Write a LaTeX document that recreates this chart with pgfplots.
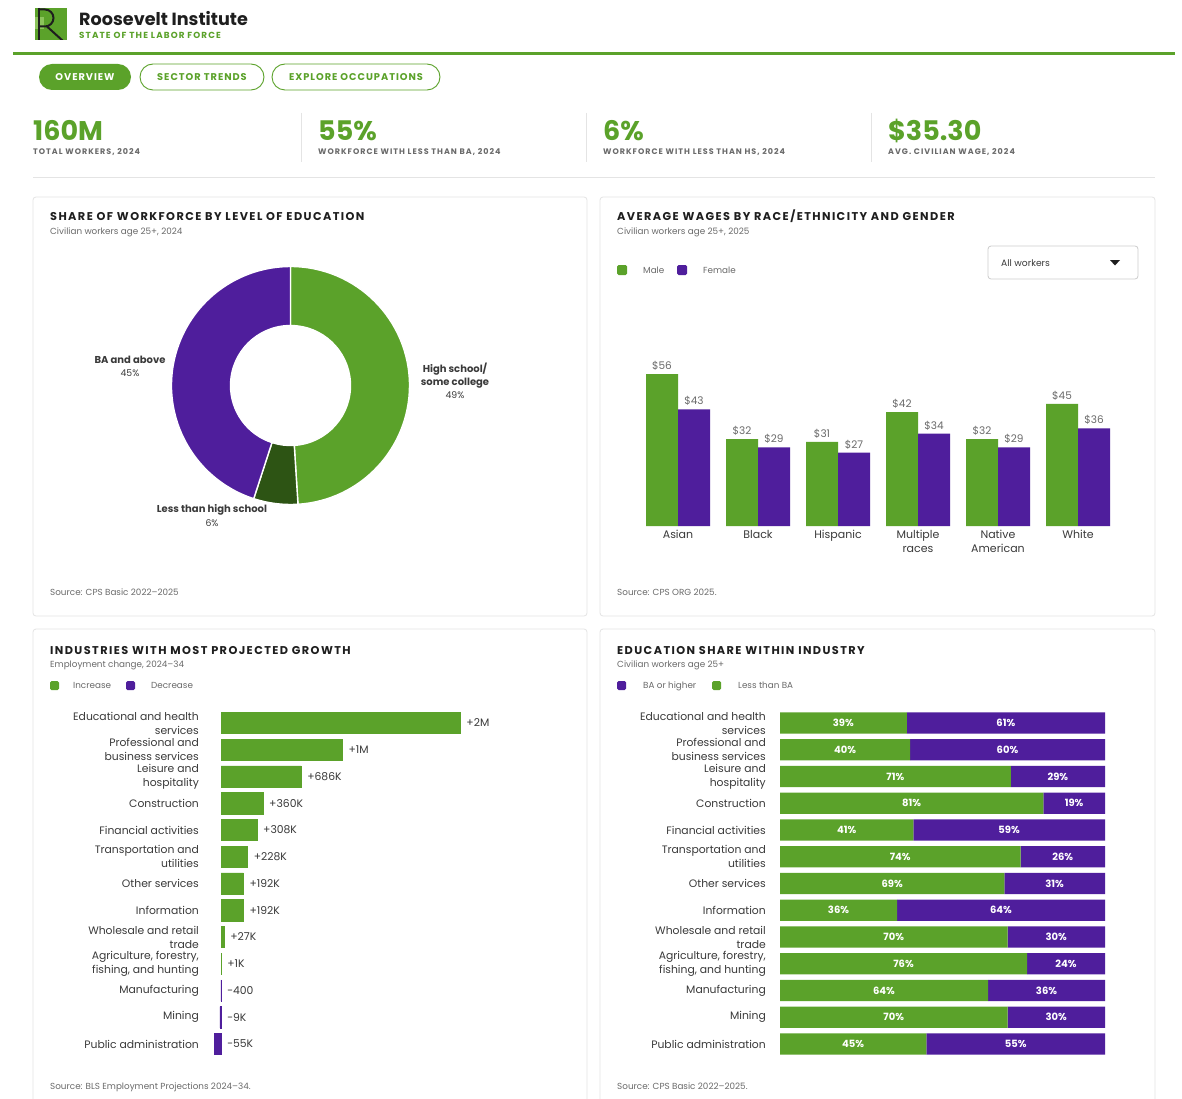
\documentclass[border=0pt]{standalone}
\usepackage{pgfplots}
\usepackage{pgfplotstable}
\pgfplotsset{compat=1.18}
\usepackage{fontspec}
\setmainfont{Poppins}
\newfontfamily\titlefont[LetterSpace=12.5]{Poppins}
\newfontfamily\navfont[LetterSpace=10]{Poppins}
\newfontfamily\kpifont[LetterSpace=12.5]{Poppins}

\definecolor{rgreen}{HTML}{5BA22A}
\definecolor{rlight}{HTML}{8CC45C}
\definecolor{rpurple}{HTML}{4F1E9C}
\definecolor{rdark}{HTML}{2D5414}
\definecolor{ink}{HTML}{1E1E1E}
\definecolor{txt}{HTML}{3A3A3A}
\definecolor{muted}{HTML}{6A6A6A}
\definecolor{card}{HTML}{E4E4E4}

\newcommand\fs[2]{\fontsize{#1}{#2}\selectfont}

% Share of workforce by education (percent)
\pgfplotstableread{
share label
49 hs
6 lths
45 ba
}\educshare

% Average hourly wages, male / female
\pgfplotstableread{
idx male female
0 56 43
1 32 29
2 31 27
3 42 34
4 32 29
5 45 36
}\wages

% Projected employment change 2024-34 (thousands)
\pgfplotstableread[col sep=comma]{
row,change,lab
0,2050,+2M
1,1040,+1M
2,686,+686K
3,360,+360K
4,308,+308K
5,228,+228K
6,192,+192K
7,192,+192K
8,27,+27K
9,1,+1K
10,-0.4,−400
11,-9,−9K
12,-55,−55K
}\growth

% Education share within industry (percent)
\pgfplotstableread{
row lessba ba
0 39 61
1 40 60
2 71 29
3 81 19
4 41 59
5 74 26
6 69 31
7 36 64
8 70 30
9 76 24
10 64 36
11 70 30
12 45 55
}\eduind

\pgfplotsset{
  hbars/.style={
    scale only axis, width=#1, height=347.75pt,
    ymin=-0.5, ymax=12.5, y dir=reverse,
    axis line style={draw=none}, tick style={draw=none},
    xtick=\empty, ytick={0,...,12},
    clip=false,
  },
  industry labels/.style={
    yticklabels={{Educational and health\\services}, {Professional and\\business services}, {Leisure and\\hospitality}, Construction, Financial activities, {Transportation and\\utilities}, Other services, Information, {Wholesale and retail\\trade}, {Agriculture, forestry,\\fishing, and hunting}, Manufacturing, Mining, Public administration},
    yticklabel style={align=right, font=\fs{10.8}{14}, text=txt, inner sep=0pt, xshift=#1},
  },
}

\begin{document}
\begin{tikzpicture}[x=1pt,y=-1pt]
\path[use as bounding box, fill=white] (0,0) rectangle (1182,1099);

% ---- header
\begin{scope}
  \clip (35,8) rectangle (67,40);
  \fill[rgreen] (35,8) rectangle (67,40);
  \fill[rlight] (35,17) rectangle (44,29);
  \draw[ink, line width=2pt] (38.5,8) -- (38.5,40);
  \draw[ink, line width=2pt] (38.5,9.5) -- (45,9.5) arc[start angle=-90, end angle=90, radius=8.5] -- (38.5,26.5);
  \draw[ink, line width=2pt] (47,26.5) -- (63,41);
\end{scope}
\node[anchor=base west, inner sep=0pt, font=\bfseries\fs{17.6}{20}, text=ink] at (79,26) {Roosevelt Institute};
\node[anchor=base west, inner sep=0pt, font=\titlefont\bfseries\fs{8.8}{10}, text=rgreen] at (79,39) {STATE OF THE LABOR FORCE};
\draw[rgreen, line width=3pt] (13,54) -- (1175,54);

% ---- navigation
\tikzset{navtext/.style={font=\navfont\bfseries\fs{9.8}{11}}}
\fill[rgreen, rounded corners=13pt] (39,64) rectangle (131,90);
\node[navtext, text=white] at (85,77) {OVERVIEW};
\draw[rgreen, line width=0.9pt, rounded corners=13pt] (140,64) rectangle (264,90);
\node[navtext, text=rgreen] at (202,77) {SECTOR TRENDS};
\draw[rgreen, line width=0.9pt, rounded corners=13pt] (272,64) rectangle (440,90);
\node[navtext, text=rgreen] at (356,77) {EXPLORE OCCUPATIONS};

% ---- headline numbers
\tikzset{
  kpi/.style={anchor=base west, inner sep=0pt, font=\bfseries\fs{27}{30}, text=rgreen},
  kpisub/.style={anchor=base west, inner sep=0pt, font=\kpifont\bfseries\fs{8}{9}, text=muted},
}
\foreach \x in {301,586,871} \draw[card, line width=0.8pt] (\x,113) -- (\x,162);
\node[kpi] at (33,141) {160M};
\node[kpi] at (318,141) {55\%};
\node[kpi] at (603,141) {6\%};
\node[kpi] at (888,141) {\$35.30};
\node[kpisub] at (33,155) {TOTAL WORKERS, 2024};
\node[kpisub] at (318,155) {WORKFORCE WITH LESS THAN BA, 2024};
\node[kpisub] at (603,155) {WORKFORCE WITH LESS THAN HS, 2024};
\node[kpisub] at (888,155) {AVG. CIVILIAN WAGE, 2024};
\draw[card, line width=0.8pt] (33,177) -- (1155,177);

% ---- cards
\foreach \a/\b/\c/\d in {33/197/587/616, 600/197/1155/616, 33/629/587/1110, 600/629/1155/1110}
  \draw[card, line width=0.8pt, rounded corners=3pt] (\a,\b) rectangle (\c,\d);

\tikzset{
  cardtitle/.style={anchor=base west, inner sep=0pt, font=\titlefont\bfseries\fs{11.3}{13}, text=ink},
  cardsub/.style={anchor=base west, inner sep=0pt, font=\fs{8.8}{10}, text=muted},
  legtext/.style={anchor=base west, inner sep=0pt, font=\fs{8.8}{10}, text=muted},
}

% ---- card 1: donut
\node[cardtitle] at (50,221) {SHARE OF WORKFORCE BY LEVEL OF EDUCATION};
\node[cardsub] at (50,234) {Civilian workers age 25+, 2024};
\node[cardsub] at (50,595) {Source: CPS Basic 2022–2025};

\pgfplotstablegetelem{0}{share}\of\educshare \pgfmathsetmacro\shA{\pgfplotsretval}
\pgfplotstablegetelem{1}{share}\of\educshare \pgfmathsetmacro\shB{\pgfplotsretval}
\pgfplotstablegetelem{2}{share}\of\educshare \pgfmathsetmacro\shC{\pgfplotsretval}
\pgfmathsetmacro\angA{90}
\pgfmathsetmacro\angB{\angA-3.6*\shA}
\pgfmathsetmacro\angC{\angB-3.6*\shB}
\pgfmathsetmacro\angD{\angC-3.6*\shC}

\begin{axis}[
  at={(290.5pt,-385.5pt)}, anchor=center,
  scale only axis, width=240pt, height=240pt,
  xmin=-1, xmax=1, ymin=-1, ymax=1, hide axis, clip=false,
]
\begin{scope}[shift={(axis cs:0,0)}]
  \filldraw[rgreen, draw=white, line width=1.4pt]
    (\angA:119pt) arc[start angle=\angA, end angle=\angB, radius=119pt]
    -- (\angB:60pt) arc[start angle=\angB, end angle=\angA, radius=60pt] -- cycle;
  \filldraw[rdark, draw=white, line width=1.4pt]
    (\angB:119pt) arc[start angle=\angB, end angle=\angC, radius=119pt]
    -- (\angC:60pt) arc[start angle=\angC, end angle=\angB, radius=60pt] -- cycle;
  \filldraw[rpurple, draw=white, line width=1.4pt]
    (\angC:119pt) arc[start angle=\angC, end angle=\angD, radius=119pt]
    -- (\angD:60pt) arc[start angle=\angD, end angle=\angC, radius=60pt] -- cycle;
\end{scope}
\end{axis}

\tikzset{
  slicename/.style={font=\bfseries\fs{10}{13}, text=txt, inner sep=0pt},
  slicepct/.style={font=\fs{9.3}{11}, text=txt, inner sep=0pt},
}
\node[slicename, align=center] at (455,375.5) {High school/\\some college};
\node[slicepct] at (455,395) {49\%};
\node[slicename] at (130,360) {BA and above};
\node[slicepct] at (130,373) {45\%};
\node[slicename] at (212,510) {Less than high school};
\node[slicepct] at (212,523) {6\%};

% ---- card 2: wages
\node[cardtitle] at (617,221) {AVERAGE WAGES BY RACE/ETHNICITY AND GENDER};
\node[cardsub] at (617,234) {Civilian workers age 25+, 2025};
\node[cardsub] at (617,595) {Source: CPS ORG 2025.};
\fill[rgreen, rounded corners=1.5pt] (617,265) rectangle (627,275);
\node[legtext] at (643,273.2) {Male};
\fill[rpurple, rounded corners=1.5pt] (677,265) rectangle (687,275);
\node[legtext] at (703,273.2) {Female};
\draw[black!20, line width=0.8pt, rounded corners=3pt] (988,246) rectangle (1138,279);
\node[anchor=west, inner sep=0pt, font=\fs{9.2}{10}, text=txt] at (1001,263) {All workers};
\fill[ink] (1110,260) -- (1120,260) -- (1115,265.5) -- cycle;

\begin{axis}[
  at={(638pt,-526pt)}, anchor=south west,
  scale only axis, width=480pt, height=162.86pt,
  xmin=-0.5, xmax=5.5, ymin=0, ymax=60,
  ybar, bar width=0.4,
  axis line style={draw=none}, tick style={draw=none},
  ytick=\empty, xtick={0,...,5},
  xticklabels={Asian,Black,Hispanic,{Multiple\\races},{Native\\American},White},
  xticklabel style={align=center, font=\fs{11}{14}, text=txt, inner sep=0pt, yshift=0.5pt},
  /pgf/number format/assume math mode=true,
  nodes near coords={\$\pgfmathprintnumber{\pgfplotspointmeta}},
  every node near coord/.append style={font=\fs{10.5}{12}, text=muted, inner sep=3.5pt},
  clip=false,
]
\addplot[bar shift=-0.2, fill=rgreen, draw=none] table[x=idx, y=male]{\wages};
\addplot[bar shift=0.2, fill=rpurple, draw=none] table[x=idx, y=female]{\wages};
\end{axis}

% ---- card 3: projected growth
\node[cardtitle] at (50,654) {INDUSTRIES WITH MOST PROJECTED GROWTH};
\node[cardsub] at (50,667.5) {Employment change, 2024–34};
\node[cardsub] at (50,1089) {Source: BLS Employment Projections 2024–34.};
\fill[rgreen, rounded corners=1.5pt] (50,681) rectangle (59,690);
\node[legtext] at (73,688.5) {Increase};
\fill[rpurple, rounded corners=1.5pt] (126,681) rectangle (135,690);
\node[legtext] at (151,688.5) {Decrease};

\begin{axis}[
  hbars=303.4pt, industry labels=-10.3pt,
  at={(209.33pt,-709.625pt)}, anchor=north west,
  xmin=-100, xmax=2500,
]
\addplot[xbar, bar width=0.8, fill=rgreen, draw=rgreen, line width=0.6pt,
  restrict x to domain=0:10000] table[x=change, y=row]{\growth};
\addplot[xbar, bar width=0.8, fill=rpurple, draw=rpurple, line width=0.6pt,
  restrict x to domain=-10000:0] table[x=change, y=row]{\growth};
\addplot[draw=none, mark=none, point meta=explicit symbolic,
  nodes near coords={\pgfplotspointmeta},
  every node near coord/.append style={anchor=west, font=\fs{10.8}{12}, text=txt, inner sep=0pt, xshift=6pt}]
  table[x expr={max(\thisrow{change},0)}, y=row, meta=lab]{\growth};
\end{axis}

% ---- card 4: education share within industry
\node[cardtitle] at (617,654) {EDUCATION SHARE WITHIN INDUSTRY};
\node[cardsub] at (617,667.5) {Civilian workers age 25+};
\node[cardsub] at (617,1089) {Source: CPS Basic 2022–2025.};
\fill[rpurple, rounded corners=1.5pt] (617,681) rectangle (626,690);
\node[legtext] at (643,688.5) {BA or higher};
\fill[rgreen, rounded corners=1.5pt] (712,681) rectangle (721,690);
\node[legtext] at (738,688.5) {Less than BA};

\begin{axis}[
  hbars=325pt, industry labels=-14pt,
  at={(780pt,-709.625pt)}, anchor=north west,
  xmin=0, xmax=100, xbar stacked, bar width=0.8,
]
\addplot[fill=rgreen, draw=none] table[x=lessba, y=row]{\eduind};
\addplot[fill=rpurple, draw=none] table[x=ba, y=row]{\eduind};
\end{axis}

\begin{axis}[
  hbars=325pt,
  at={(780pt,-709.625pt)}, anchor=north west,
  xmin=0, xmax=100, ytick=\empty,
  /pgf/number format/assume math mode=true,
  every node near coord/.append style={anchor=center, font=\bfseries\fs{10}{11}, text=white, inner sep=0pt},
]
\addplot[draw=none, mark=none, point meta=explicit,
  nodes near coords={\pgfmathprintnumber{\pgfplotspointmeta}\%}]
  table[x expr={\thisrow{lessba}/2}, y=row, meta=lessba]{\eduind};
\addplot[draw=none, mark=none, point meta=explicit,
  nodes near coords={\pgfmathprintnumber{\pgfplotspointmeta}\%}]
  table[x expr={\thisrow{lessba}+\thisrow{ba}/2}, y=row, meta=ba]{\eduind};
\end{axis}

\end{tikzpicture}
\end{document}
